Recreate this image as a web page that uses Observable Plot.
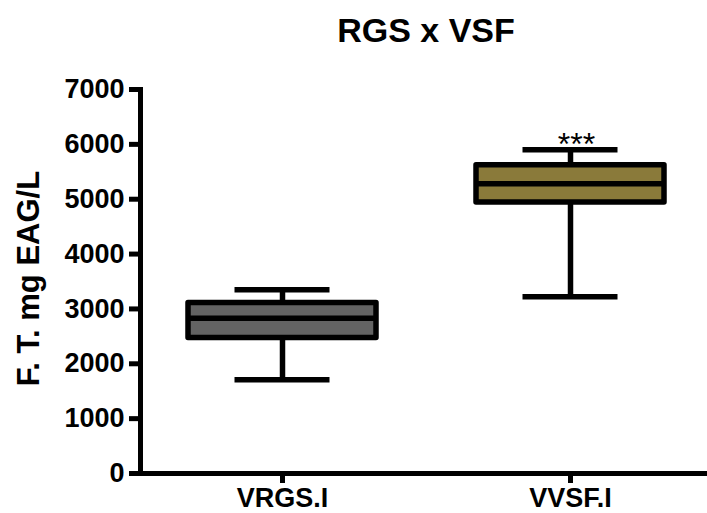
<!DOCTYPE html>
<html>
<head>
<meta charset="utf-8">
<script src="https://cdn.jsdelivr.net/npm/d3@7"></script>
<script src="https://cdn.jsdelivr.net/npm/@observablehq/plot@0.6"></script>
<style>
  html, body { margin: 0; padding: 0; background: #fff; }
  svg { display: block; }
</style>
</head>
<body>
<div id="chart"></div>
<script>
const title = "RGS x VSF";
const yLabel = "F. T. mg EAG/L";
const groups = ["VRGS.I", "VVSF.I"];
const mins = [1710, 3220];
const q1s = [2470, 4940];
const medians = [2830, 5280];
const q3s = [3110, 5620];
const maxs = [3350, 5900];
const sig = ["", "***"];
const fills = ["#636363", "#8a7a3a"];
const yTicks = [0, 1000, 2000, 3000, 4000, 5000, 6000, 7000];

const data = groups.map((g, i) => ({
  group: g, min: mins[i], q1: q1s[i], median: medians[i], q3: q3s[i], max: maxs[i], sig: sig[i], fill: fills[i]
}));

const font = "'Liberation Sans', Arial, Helvetica, sans-serif";
const sw = 5.5;

const chart = Plot.plot({
  width: 707,
  height: 513,
  marginLeft: 140,
  marginRight: 0,
  marginTop: 89,
  marginBottom: 40,
  style: { fontFamily: font, background: "#fff", color: "#000", overflow: "visible" },
  x: { type: "band", domain: groups, paddingInner: 0.346, paddingOuter: 0.154, align: 0.534, label: null },
  y: { domain: [0, 7000], label: null },
  marks: [
    // whiskers
    Plot.ruleX(data, { x: "group", y1: "q3", y2: "max", stroke: "#000", strokeWidth: sw }),
    Plot.ruleX(data, { x: "group", y1: "min", y2: "q1", stroke: "#000", strokeWidth: sw }),
    // caps
    Plot.tickY(data, { x: "group", y: "max", stroke: "#000", strokeWidth: sw, insetLeft: 46.5, insetRight: 46.5 }),
    Plot.tickY(data, { x: "group", y: "min", stroke: "#000", strokeWidth: sw, insetLeft: 46.5, insetRight: 46.5 }),
    // boxes
    Plot.barY(data, { x: "group", y1: "q1", y2: "q3", fill: d => d.fill, stroke: "#000", strokeWidth: sw, strokeLinejoin: "round" }),
    // medians
    Plot.tickY(data, { x: "group", y: "median", stroke: "#000", strokeWidth: sw }),
    // significance
    Plot.text(data.filter(d => d.sig), { x: "group", y: "max", text: "sig", fontSize: 32, lineAnchor: "bottom", dy: 5, dx: 6, fill: "#000" }),
    // axes
    Plot.axisY({ ticks: yTicks, tickSize: 11, tickPadding: 5, fontSize: 27, fontWeight: "bold", strokeWidth: 5, label: null, tickFormat: d => String(d) }),
    Plot.axisX({ tickSize: 10, tickPadding: 4, fontSize: 27, fontWeight: "bold", strokeWidth: 5, label: null }),
    Plot.ruleY([0], { stroke: "#000", strokeWidth: 5 }),
    Plot.frame({ anchor: "left", stroke: "#000", strokeWidth: 5 }),
    // y label
    Plot.text([yLabel], { frameAnchor: "left", rotate: -90, dx: -111, dy: -3, fontSize: 31, fontWeight: "bold", textAnchor: "middle", lineAnchor: "middle", fill: "#000" }),
    // title
    Plot.text([title], { frameAnchor: "top", lineAnchor: "bottom", dy: -48, dx: 2, fontSize: 34, fontWeight: "bold", fill: "#000" })
  ]
});

document.getElementById("chart").appendChild(chart);
</script>
</body>
</html>
